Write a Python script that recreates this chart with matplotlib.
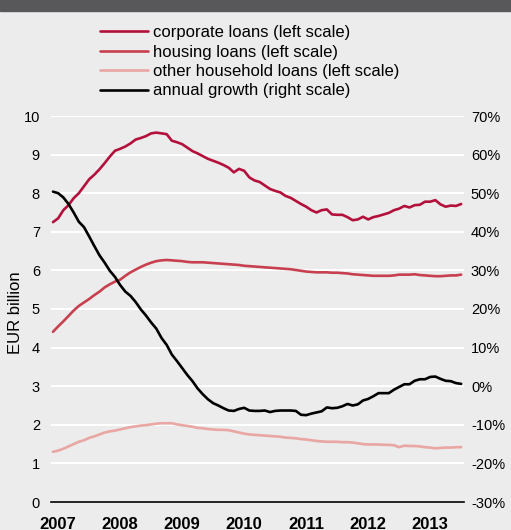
import matplotlib
matplotlib.use("Agg")
import matplotlib.pyplot as plt
from matplotlib.patches import Rectangle
import numpy as np

plt.rcParams["font.family"] = ["Liberation Sans", "DejaVu Sans"]
plt.rcParams["axes.unicode_minus"] = False

# Monthly observations, December 2006 to July 2013
start_year, start_month, n_months = 2006, 12, 80

corporate = [
    7.25, 7.35, 7.56, 7.69, 7.87, 8.00, 8.18, 8.36, 8.48, 8.62,
    8.78, 8.95, 9.10, 9.15, 9.21, 9.29, 9.39, 9.43, 9.48, 9.55,
    9.57, 9.55, 9.53, 9.36, 9.32, 9.27, 9.18, 9.09, 9.03, 8.96,
    8.89, 8.84, 8.79, 8.73, 8.66, 8.54, 8.63, 8.58, 8.41, 8.33,
    8.29, 8.20, 8.11, 8.06, 8.02, 7.93, 7.88, 7.80, 7.72, 7.65,
    7.56, 7.50, 7.56, 7.58, 7.45, 7.44, 7.44, 7.38, 7.30, 7.32,
    7.39, 7.32, 7.38, 7.41, 7.45, 7.49, 7.56, 7.60, 7.67, 7.63,
    7.69, 7.70, 7.78, 7.78, 7.82, 7.71, 7.65, 7.68, 7.67, 7.72,
]
housing = [
    4.41, 4.55, 4.68, 4.82, 4.96, 5.08, 5.17, 5.26, 5.36, 5.45,
    5.56, 5.64, 5.71, 5.76, 5.86, 5.95, 6.02, 6.09, 6.15, 6.20,
    6.24, 6.26, 6.27, 6.26, 6.25, 6.24, 6.22, 6.21, 6.21, 6.21,
    6.20, 6.19, 6.18, 6.17, 6.16, 6.15, 6.14, 6.12, 6.11, 6.10,
    6.09, 6.08, 6.07, 6.06, 6.05, 6.04, 6.03, 6.01, 5.99, 5.97,
    5.96, 5.95, 5.95, 5.95, 5.94, 5.94, 5.93, 5.92, 5.90, 5.89,
    5.88, 5.87, 5.86, 5.86, 5.86, 5.86, 5.87, 5.89, 5.89, 5.89,
    5.90, 5.88, 5.87, 5.86, 5.85, 5.85, 5.86, 5.87, 5.87, 5.89,
]
other_household = [
    1.30, 1.33, 1.38, 1.44, 1.50, 1.56, 1.60, 1.66, 1.70, 1.75,
    1.80, 1.83, 1.85, 1.88, 1.91, 1.94, 1.96, 1.98, 1.99, 2.01,
    2.03, 2.04, 2.04, 2.04, 2.01, 1.99, 1.97, 1.95, 1.92, 1.91,
    1.89, 1.88, 1.87, 1.87, 1.86, 1.83, 1.80, 1.77, 1.75, 1.74,
    1.73, 1.72, 1.71, 1.70, 1.69, 1.67, 1.66, 1.65, 1.63, 1.62,
    1.60, 1.58, 1.57, 1.56, 1.56, 1.56, 1.55, 1.55, 1.54, 1.52,
    1.50, 1.49, 1.49, 1.49, 1.48, 1.48, 1.47, 1.42, 1.46, 1.45,
    1.45, 1.44, 1.42, 1.41, 1.39, 1.40, 1.41, 1.41, 1.42, 1.42,
]
annual_growth = [
    50.4, 50.0, 48.9, 47.2, 45.0, 42.6, 41.2, 38.8, 36.3, 33.9,
    32.0, 29.9, 28.3, 26.2, 24.5, 23.4, 21.8, 19.9, 18.3, 16.5,
    14.9, 12.5, 10.7, 8.2, 6.5, 4.7, 2.9, 1.3, -0.6, -2.1,
    -3.4, -4.4, -5.0, -5.7, -6.3, -6.4, -5.9, -5.6, -6.3, -6.4,
    -6.4, -6.3, -6.7, -6.4, -6.3, -6.3, -6.3, -6.4, -7.4, -7.5,
    -7.1, -6.8, -6.5, -5.5, -5.7, -5.6, -5.2, -4.6, -5.0, -4.7,
    -3.7, -3.3, -2.6, -1.8, -1.8, -1.8, -0.9, -0.2, 0.5, 0.5,
    1.4, 1.8, 1.8, 2.4, 2.5, 1.9, 1.4, 1.3, 0.8, 0.6,
]
years = [2007, 2008, 2009, 2010, 2011, 2012, 2013]

labels = [
    "corporate loans (left scale)",
    "housing loans (left scale)",
    "other household loans (left scale)",
    "annual growth (right scale)",
]
colors = ["#b4103c", "#c8404f", "#e9a6a2", "#000000"]

BG = "#ebeceb"

# decimal-year positions for the monthly series
t = start_year + (start_month - 1) / 12 + np.arange(n_months) / 12

fig = plt.figure(figsize=(5.11, 5.30), dpi=100, facecolor=BG)
fig.patches.append(Rectangle((0, 1 - 11 / 530), 1, 11 / 530,
                             transform=fig.transFigure, color="#58585a",
                             zorder=0))

ax = fig.add_axes([51 / 511, 28 / 530, 413 / 511, 386 / 530])
ax.set_facecolor(BG)
ax2 = ax.twinx()

lw = 1.9
handles = []
for series, col in zip([corporate, housing, other_household], colors[:3]):
    h, = ax.plot(t, series, color=col, lw=lw, solid_capstyle="round",
                 zorder=3)
    handles.append(h)
h, = ax2.plot(t, annual_growth, color=colors[3], lw=lw,
              solid_capstyle="round", zorder=3)
handles.append(h)

ax.set_xlim(t[0] - 2 / 62, t[0] + 411 / 62)
ax.set_ylim(0, 10)
ax.set_yticks(range(0, 11))
ax2.set_ylim(-30, 70)
ax2.set_yticks(range(-30, 71, 10))
ax2.set_yticklabels([f"{v}%" for v in range(-30, 71, 10)])

ax.set_xticks(years)
ax.set_xticklabels([str(y) for y in years], fontweight="bold", fontsize=12)
ax.tick_params(axis="x", length=0, pad=11)
ax.tick_params(axis="y", length=0, pad=8, labelsize=10.5)
ax2.tick_params(axis="y", length=0, pad=5, labelsize=10.5)

ax.grid(axis="y", color="white", lw=1.5, zorder=1)
ax.set_axisbelow(True)
for a in (ax, ax2):
    for side in ("top", "left", "right", "bottom"):
        a.spines[side].set_visible(False)
ax.axhline(0, color="black", lw=1.2, zorder=4, clip_on=False)

ax.set_ylabel("EUR billion", fontsize=12)
ax.yaxis.set_label_coords(-28 / 413, 0.49)

ax.legend(handles, labels, loc="upper left",
          bbox_to_anchor=(100 / 511, 1 - 25 / 530),
          bbox_transform=fig.transFigure, frameon=False, fontsize=12,
          handlelength=2.9, handletextpad=0.27, labelspacing=0.27,
          borderpad=0, borderaxespad=0)

fig.savefig("out.png", dpi=100, facecolor=BG)
